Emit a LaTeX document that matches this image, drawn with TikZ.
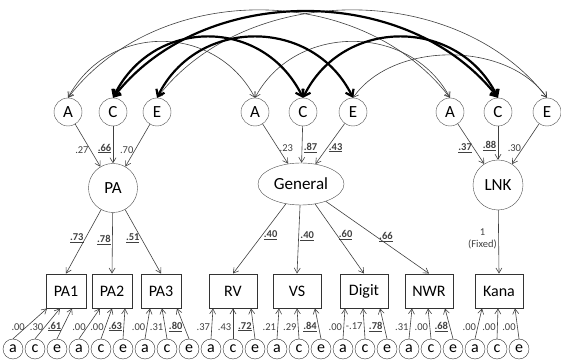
\documentclass[tikz,border=0pt]{standalone}
\usepackage{fontspec}
\setmainfont{Carlito}
\usetikzlibrary{positioning,calc}
\usetikzlibrary{arrows.meta,shapes.geometric}
\newcommand{\sigval}[1]{\underline{\textbf{#1}}}
\tikzset{
	lat/.style={circle,draw=black!70,fill=white,minimum size=28pt,inner sep=0pt,font=\fontsize{17}{17}\selectfont},
	factor/.style={circle,draw=black!70,fill=white,minimum size=49pt,inner sep=0pt,font=\fontsize{17}{17}\selectfont},
	obs/.style={draw=black!80,line width=0.9pt,fill=white,minimum width=48pt,minimum height=34pt,inner sep=0pt,font=\fontsize{16}{16}\selectfont},
	err/.style={circle,draw=black!80,fill=white,minimum size=20pt,inner sep=0pt,font=\fontsize{16}{16}\selectfont},
	load/.style={draw=black!75,line width=0.6pt,-{Straight Barb[length=5pt,width=6pt]}},
	corr/.style={draw=black!75,line width=0.6pt,{Straight Barb[length=5pt,width=6pt]}-{Straight Barb[length=5pt,width=6pt]}},
	corrsig/.style={draw=black,line width=2.2pt,{Straight Barb[length=6pt,width=9pt]}-{Straight Barb[length=6pt,width=9pt]}},
	coef/.style={font=\fontsize{10.5}{10.5}\selectfont,inner sep=1.5pt,text=black!75},
}

\begin{document}
\begin{tikzpicture}[x=1pt,y=1pt]
	\useasboundingbox (0,0) rectangle (561,363);
	% ACE components
	\node[lat] (A1) at (68,251) {A};
	\node[lat] (C1) at (113,251) {C};
	\node[lat] (E1) at (157,251) {E};
	\node[lat] (A2) at (255,251) {A};
	\node[lat] (C2) at (303,251) {C};
	\node[lat] (E2) at (353,251) {E};
	\node[lat] (A3) at (450,251) {A};
	\node[lat] (C3) at (498,251) {C};
	\node[lat] (E3) at (547,251) {E};
	% factors
	\node[factor] (PA) at (113,175) {PA};
	\node[ellipse,draw=black!70,minimum width=86pt,minimum height=42pt,inner sep=0pt,font=\fontsize{17}{17}\selectfont] (General) at (301,179) {General};
	\node[factor,minimum size=50pt] (LNK) at (498,178) {LNK};
	% measures
	\node[obs,minimum width=40pt] (PA1) at (66,72) {PA1};
	\node[obs,minimum width=40pt] (PA2) at (112,72) {PA2};
	\node[obs,minimum width=40pt] (PA3) at (161,72) {PA3};
	\node[obs] (RV) at (233,72) {RV};
	\node[obs] (VS) at (297,72) {VS};
	\node[obs] (Digit) at (364,72) {Digit};
	\node[obs] (NWR) at (429,72) {NWR};
	\node[obs] (Kana) at (499,72) {Kana};
	% residual ace
	\foreach \bx [count=\i from 0] in {PA1,PA2,PA3,RV,VS,Digit,NWR,Kana} {
		\foreach \k [count=\j from 0] in {a,c,e}
			\node[err] (\bx-\k) at ({13+22*(3*\i+\j)},14) {\k};
	}
	\foreach \bx/\da/\dc/\de/\la/\lc/\le in {
		PA1/-19/-6/6/.00/.30/\sigval{.61},
		PA2/-12/0/13/.00/.00/\sigval{.63},
		PA3/-11/1/16/.00/.31/\sigval{.80},
		RV/-20/0/18/.37/.43/\sigval{.72},
		VS/-18/0/18/.21/.29/\sigval{.84},
		Digit/-19/-1/16/.00/-.17/\sigval{.78},
		NWR/-17/-1/16/.31/.00/\sigval{.68},
		Kana/-17/-1/16/.00/.00/.00} {
		\foreach \k/\d/\l in {a/\da/\la,c/\dc/\lc,e/\de/\le}
			\draw[load] (\bx-\k.north) -- node[coef,left,pos=.4] {\l} ($(\bx.south)+(\d,0)$);
	}
	% correlations between twins' components
	\foreach \s/\t/\a/\h/\st in {A1/A3/90/117/corr,E1/E3/90/117/corr,A1/A2/40/75/corr,
		A2/A3/40/75/corr,E2/E3/40/57/corr,C1/C3/90/115/corrsig,C1/C2/40/81/corrsig,
		E1/E2/40/81/corrsig,C2/C3/40/81/corrsig}
		\draw[\st] (\s.north) .. controls +(\a,\h) and +(-\a,\h) .. (\t.north);
	% paths to factors
	\draw[load] (A1) -- node[coef,left,pos=.6] {.27} (PA);
	\draw[load] (C1) -- node[coef,left,pos=.6] {\sigval{.66}} (PA);
	\draw[load] (E1) -- node[coef,left,pos=.6] {.70} (PA);
	\draw[load] (A2) -- node[coef,right,pos=.6] {.23} (General);
	\draw[load] (C2) -- node[coef,right,pos=.6] {\sigval{.87}} (General);
	\draw[load] (E2) -- node[coef,right,pos=.6] {\sigval{.43}} (General);
	\draw[load] (A3) -- node[coef,left,pos=.6] {\sigval{.37}} (LNK);
	\draw[load] (C3) -- node[coef,left,pos=.6] {\sigval{.88}} (LNK);
	\draw[load] (E3) -- node[coef,left,pos=.6] {.30} (LNK);
	% factor loadings
	\draw[load] (PA) -- node[coef,left,pos=.45] {\sigval{.73}} (PA1.north);
	\draw[load] (PA) -- node[coef,left,pos=.45] {\sigval{.78}} (PA2.north);
	\draw[load] (PA) -- node[coef,left,pos=.45] {\sigval{.51}} (PA3.north);
	\draw[load] (General) -- node[coef,right,pos=.45] {\sigval{.40}} (RV.north);
	\draw[load] (General) -- node[coef,right,pos=.45] {\sigval{.40}} (VS.north);
	\draw[load] (General) -- node[coef,right,pos=.45] {\sigval{.60}} (Digit.north);
	\draw[load] (General) -- node[coef,right,pos=.5] {\sigval{.66}} (NWR.north);
	\draw[load] (LNK) -- node[coef,left,align=center,pos=.45] {1\\[1pt](Fixed)} (Kana.north);
\end{tikzpicture}
\end{document}
